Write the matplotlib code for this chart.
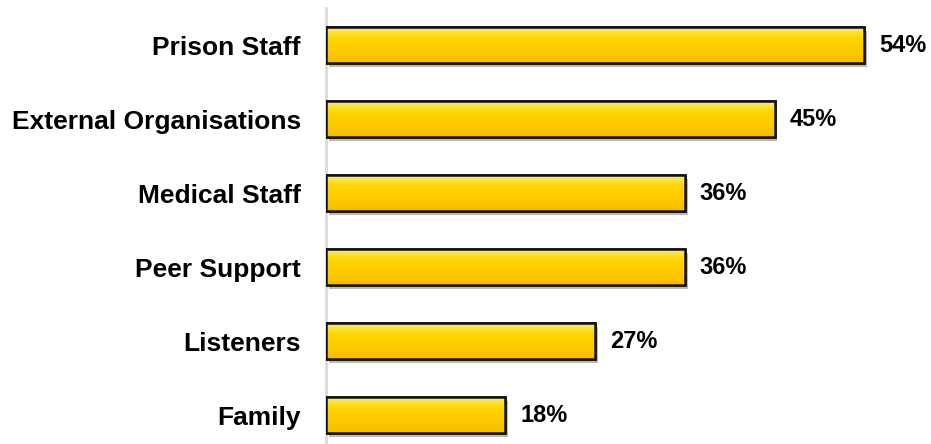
import matplotlib
matplotlib.use("Agg")
import matplotlib.pyplot as plt
import numpy as np
from matplotlib.colors import LinearSegmentedColormap
import matplotlib.patheffects as pe

categories = ["Family", "Listeners", "Peer Support", "Medical Staff",
              "External Organisations", "Prison Staff"]
values = [18, 27, 36, 36, 45, 54]
labels = ["18%", "27%", "36%", "36%", "45%", "54%"]

plt.rcParams['font.family'] = ['Liberation Sans', 'DejaVu Sans']

fig = plt.figure(figsize=(9.31, 4.44), dpi=100)
ax = fig.add_axes([326/931, 0, 605/931, 436/444])

ypos = np.arange(len(categories))
h = 0.49
bars = ax.barh(ypos, values, height=h, color='#FFCC00', edgecolor='#111111',
               linewidth=1.8, zorder=3,
               path_effects=[pe.SimplePatchShadow(offset=(2, -3), shadow_rgbFace='#777777', alpha=0.5), pe.Normal()])

cmap = LinearSegmentedColormap.from_list('g', ['#FFF35A', '#FFD400', '#FFCB00', '#F5BC00'])
grad = np.linspace(0, 1, 100).reshape(-1, 1)
for b in bars:
    x0, y0 = b.get_x(), b.get_y()
    w, hh = b.get_width(), b.get_height()
    im = ax.imshow(grad, cmap=cmap, aspect='auto', extent=[x0, x0 + w, y0, y0 + hh],
                   zorder=3.5, origin='upper')
    im.set_clip_path(b)
    ax.add_patch(plt.Rectangle((x0, y0), w, hh, fill=False, edgecolor='#111111',
                               linewidth=1.8, zorder=4))

for y, v, t in zip(ypos, values, labels):
    ax.text(v + 1.5, y, t, va='center', ha='left', fontsize=17, fontweight='bold', color='#000000')

ax.set_xlim(0, 60.7)
ax.set_ylim(-0.39, 5.5)
ax.set_yticks(ypos)
ax.set_yticklabels(categories, fontsize=19, fontweight='bold')
ax.tick_params(axis='y', length=0, pad=18)
ax.set_xticks([])
for s in ['top', 'right', 'bottom']:
    ax.spines[s].set_visible(False)
ax.spines['left'].set_color('#D9D9D9')
ax.spines['left'].set_linewidth(2)
ax.patch.set_alpha(0)

fig.savefig('out.png', dpi=100)
